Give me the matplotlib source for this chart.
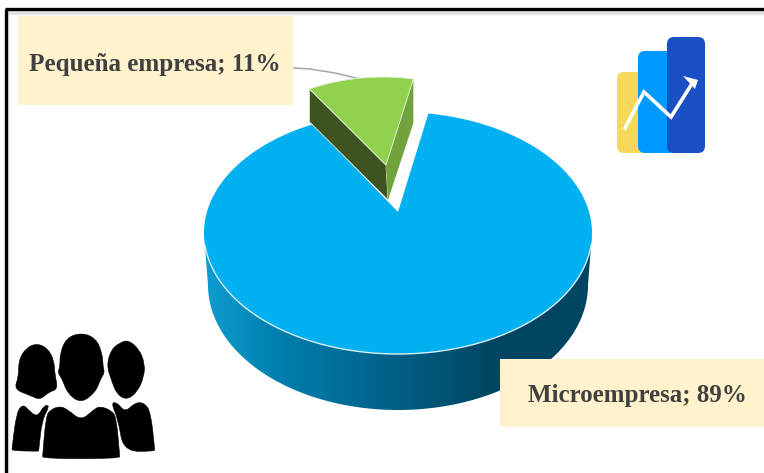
import numpy as np
import matplotlib
matplotlib.use('Agg')
import matplotlib.pyplot as plt
from matplotlib.patches import Rectangle, FancyBboxPatch, PathPatch, Polygon
from matplotlib.path import Path
from matplotlib.colors import LinearSegmentedColormap

# data
labels = ['Microempresa', 'Pequeña empresa']
shares = [89, 11]
colors = ['#00b0f0', '#92d050']
label_text = [f'{n}; {s}%' for n, s in zip(labels, shares)]

fig = plt.figure(figsize=(7.64, 4.73), dpi=100)
ax = fig.add_axes([0, 0, 1, 1])
ax.set_xlim(0, 764)
ax.set_ylim(473, 0)
ax.axis('off')


def rim(cx, cy, rx, ry, t0, t1, n=120):
    # points along an ellipse, angles in degrees, y axis points down
    t = np.radians(np.linspace(t0, t1, n))
    return np.column_stack((cx + rx * np.cos(t), cy - ry * np.sin(t)))


def smooth(pts):
    # closed quadratic spline through the midpoints of the outline
    pts = np.array(pts, dtype=float)
    mids = (pts + np.roll(pts, -1, axis=0)) / 2
    verts = [mids[-1]]
    codes = [Path.MOVETO]
    for p, m in zip(pts, mids):
        verts += [p, m]
        codes += [Path.CURVE3, Path.CURVE3]
    return Path(verts, codes)


# slice angles come from the shares, small slice centred near the top
small_span = shares[1] / sum(shares) * 360
t_small0 = 98.5 - small_span / 2
t_small1 = 98.5 + small_span / 2
# the tilted view makes the gap look a bit narrower than the slice
gap_half = small_span * 0.885 / 2

# big slice
cx, cy, rx, ry = 398, 233, 194, 121
apex = (398, 212)
front = rim(cx, cy, rx, ry, 180, 360)
bottom = rim(398, 285, 190, 125, 360, 180)
side_path = Path(np.vstack((front, bottom, front[:1])), closed=True)
side_patch = PathPatch(side_path, fc='none', ec='none')
ax.add_patch(side_patch)
cmap = LinearSegmentedColormap.from_list('side', [(0, '#0f9ccf'), (0.18, '#0080b0'), (0.5, '#005f85'), (0.75, '#004561'), (1, '#004561')])
im = ax.imshow(np.linspace(0, 1, 256).reshape(1, -1), cmap=cmap, extent=(205, 592, 410, 230), aspect='auto', zorder=1)
im.set_clip_path(side_patch)
ax.set_xlim(0, 764)
ax.set_ylim(473, 0)

big_rim = rim(cx, cy, rx, ry, 98.5 + gap_half, 98.5 - gap_half + 360, 300)
ax.add_patch(Polygon(np.vstack(([apex], big_rim)), closed=True, fc=colors[0], ec='none', zorder=2))
ax.plot(*rim(cx, cy, rx, ry, 186, 354).T, color='#d5eef8', lw=1, zorder=3)

# small slice, pulled out
g_cx, g_cy, g_rx, g_ry = 383, 177, 155, 100
g_apex = np.array([386, 165])
g_rim = rim(g_cx, g_cy, g_rx, g_ry, t_small0, t_small1, 60)
g_depth = 35
ax.add_patch(Polygon([g_rim[-1], g_apex, g_apex + [2, g_depth], g_rim[-1] + [0, g_depth - 2]],
                     closed=True, fc='#3d5420', ec='#dfe6d6', lw=0.6, zorder=4))
ax.add_patch(Polygon([g_apex, g_rim[0], g_rim[0] + [0, g_depth + 9], g_apex + [2, g_depth]],
                     closed=True, fc='#70a33c', ec='none', zorder=4))
ax.add_patch(Polygon(np.vstack(([g_apex], g_rim)), closed=True, fc=colors[1], ec='#e8f3dc', lw=0.6, zorder=5))

# frame of the pasted picture
ax.plot([9, 9], [473, 13], color='#f0f0f0', lw=1.5, zorder=0)
ax.plot([9, 764], [13, 13], color='#e4e4e4', lw=3, zorder=0)
ax.plot([6, 6], [473, 9], color='black', lw=2.4, zorder=9, solid_capstyle='butt')
ax.plot([5, 764], [9, 9], color='black', lw=2.4, zorder=9, solid_capstyle='butt')

# leader line
ax.plot([294, 310, 335, 360], [68, 69, 73, 79], color='#a6a6a6', lw=1.1, zorder=3)

# data labels
ax.add_patch(Rectangle((18, 16), 275, 89, fc='#fff2cc', ec='none', zorder=6))
ax.add_patch(Rectangle((500, 359), 264, 68, fc='#fff2cc', ec='none', zorder=6))
ax.text(155, 64, label_text[1], family='Liberation Serif', weight='bold', size=18.1, color='#404040',
        ha='center', va='center', zorder=7)
ax.text(637, 395, label_text[0], family='Liberation Serif', weight='bold', size=18, color='#404040',
        ha='center', va='center', zorder=7)

# chart icon, top right
for x0, y0, x1, col, z in [(617, 72, 650, '#f8d85a', 3), (638, 51, 676, '#0099ff', 4), (667, 37, 705, '#1a50c4', 5)]:
    ax.add_patch(FancyBboxPatch((x0 + 6, y0 + 6), x1 - x0 - 12, 153 - y0 - 12, boxstyle='round,pad=6,rounding_size=7',
                                fc=col, ec='none', zorder=z))
ax.plot([625, 644, 671, 693], [128, 92, 117, 82], color='white', lw=2.6, zorder=6, solid_joinstyle='miter')
ax.add_patch(Polygon([(683, 76), (698, 80), (695, 89)], closed=True, fc='white', ec='none', zorder=6))

# people icon, bottom left
people = [
    [(110, 70), (142, 84), (162, 120), (164, 160), (174, 208), (146, 216), (120, 240), (90, 226), (42, 208), (56, 170), (56, 120), (78, 84)],
    [(36, 392), (36, 385), (50, 275), (70, 253), (85, 270), (112, 292), (132, 256), (150, 256), (126, 300), (116, 392), (116, 394)],
    [(385, 60), (418, 88), (434, 130), (432, 170), (412, 216), (380, 240), (350, 222), (334, 180), (320, 135), (334, 88), (360, 68)],
    [(333, 248), (352, 248), (375, 277), (405, 248), (432, 248), (452, 275), (464, 386), (464, 394), (370, 394), (355, 300)],
    [(243, 38), (287, 54), (307, 100), (309, 140), (314, 158), (302, 176), (287, 216), (243, 250), (203, 221), (186, 176), (173, 158), (180, 140), (180, 100), (199, 54)],
    [(128, 416), (128, 404), (138, 290), (150, 270), (180, 258), (205, 270), (243, 302), (280, 270), (300, 258), (337, 273), (349, 295), (359, 404), (359, 416)],
]
for shape in people:
    pts = [(x / 3, 320 + y / 3) for x, y in shape]
    ax.add_patch(PathPatch(smooth(pts), fc='black', ec='black', lw=0.4, zorder=8))

fig.savefig('out.png', dpi=100)
